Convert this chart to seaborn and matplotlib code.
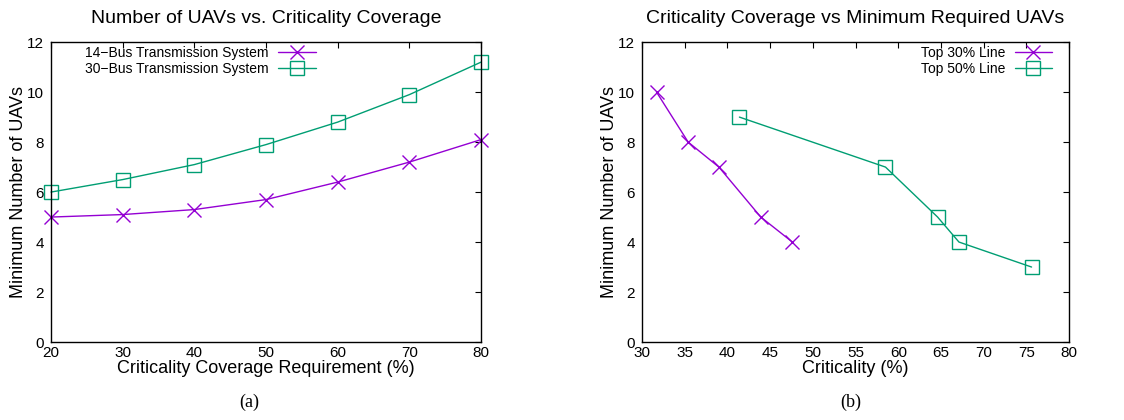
import numpy as np
import pandas as pd
import seaborn as sns
import matplotlib.pyplot as plt

# (a) coverage requirement vs UAVs
coverage = [20, 30, 40, 50, 60, 70, 80]
uav_14bus = [5.0, 5.1, 5.3, 5.7, 6.4, 7.2, 8.1]
uav_30bus = [6.0, 6.5, 7.1, 7.9, 8.8, 9.9, 11.2]

# (b) criticality vs UAVs
crit_top30 = [31.7, 35.4, 39.0, 43.9, 47.6]
uav_top30 = [10, 8, 7, 5, 4]
crit_top50 = [41.4, 58.5, 64.6, 67.1, 75.6]
uav_top50 = [9, 7, 5, 4, 3]

purple = '#9400D3'
green = '#009E73'

sns.set_style('white')
plt.rcParams['font.family'] = ['Liberation Sans', 'DejaVu Sans']
plt.rcParams['text.color'] = 'black'
plt.rcParams['axes.labelcolor'] = 'black'
plt.rcParams['axes.linewidth'] = 1.0

fig = plt.figure(figsize=(11.24, 4.2), dpi=100)
ax1 = fig.add_axes([0.0454, 0.1857, 0.3826, 0.714])
ax2 = fig.add_axes([0.5712, 0.1857, 0.380, 0.714])

mk_x = dict(marker='x', markersize=10.5, markeredgewidth=1.0, linewidth=1.0, clip_on=False)
mk_s = dict(marker='s', markersize=10, markeredgewidth=1.0, linewidth=1.0,
            markerfacecolor='none', clip_on=False)

sns.lineplot(x=coverage, y=uav_14bus, ax=ax1, color=purple, markeredgecolor=purple,
             label='14\u2212Bus Transmission System', **mk_x)
sns.lineplot(x=coverage, y=uav_30bus, ax=ax1, color=green, markeredgecolor=green,
             label='30\u2212Bus Transmission System', **mk_s)

sns.lineplot(x=crit_top30, y=uav_top30, ax=ax2, color=purple, markeredgecolor=purple,
             label='Top 30% Line', sort=False, **mk_x)
sns.lineplot(x=crit_top50, y=uav_top50, ax=ax2, color=green, markeredgecolor=green,
             label='Top 50% Line', sort=False, **mk_s)

ax1.set_xlim(20, 80)
ax1.set_xticks(range(20, 81, 10))
ax2.set_xlim(30, 80)
ax2.set_xticks(range(30, 81, 5))

for ax, anchor in ((ax1, (0.625, 1.0)), (ax2, (0.97, 1.0))):
    ax.set_ylim(0, 12)
    ax.set_yticks(range(0, 13, 2))
    ax.tick_params(direction='in', length=4, width=0.8, top=True, right=True,
                   labelsize=11, colors='black')
    ax.tick_params(axis='y', pad=5)
    ax.tick_params(axis='x', pad=3)
    for s in ax.spines.values():
        s.set_color('black')
    ax.set_ylabel('Minimum Number of UAVs', fontsize=13, labelpad=0)
    ax.legend(loc='upper right', bbox_to_anchor=anchor, frameon=False,
              markerfirst=False, fontsize=10, handlelength=2.7, handletextpad=0.7,
              labelspacing=0.1, borderaxespad=0, borderpad=0.3)

ax1.set_title('Number of UAVs vs. Criticality Coverage', fontsize=14, pad=14)
ax1.set_xlabel('Criticality Coverage Requirement (%)', fontsize=13, labelpad=0)
ax2.set_title('Criticality Coverage vs Minimum Required UAVs', fontsize=14, pad=14)
ax2.set_xlabel('Criticality (%)', fontsize=13, labelpad=0)

fig.text(0.222, 0.03, '(a)', ha='center', fontsize=13, family='Liberation Serif')
fig.text(0.757, 0.03, '(b)', ha='center', fontsize=13, family='Liberation Serif')

fig.savefig('out.png', dpi=100)
